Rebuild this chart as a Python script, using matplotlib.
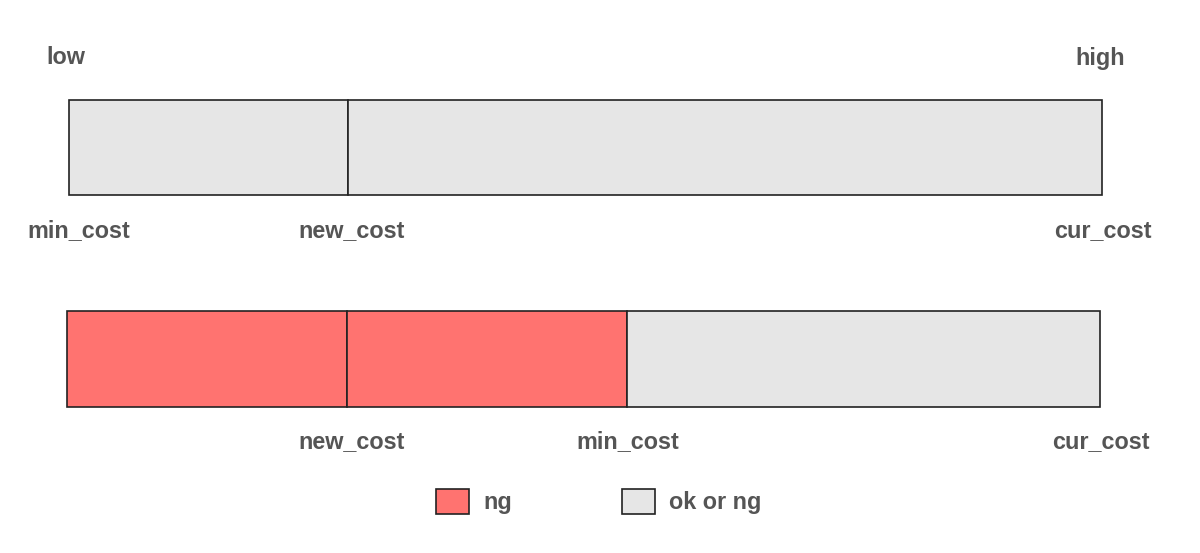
import matplotlib.pyplot as plt
from matplotlib.patches import Rectangle

# segments of each bar: (start, end, kind)
top_segments = [(69, 348, "ok or ng"), (348, 1102, "ok or ng")]
bottom_segments = [(67, 347, "ng"), (347, 627, "ng"), (627, 1100, "ok or ng")]

top_ticks = [79, 352, 1103]
top_tick_labels = ["min_cost", "new_cost", "cur_cost"]
bottom_ticks = [352, 628, 1101]
bottom_tick_labels = ["new_cost", "min_cost", "cur_cost"]

scale_ends = [66, 1100]
scale_labels = ["low", "high"]

legend_kinds = ["ng", "ok or ng"]
colors = {"ng": "#ff7370", "ok or ng": "#e6e6e6"}
text_color = "#555555"

plt.rcParams['font.family'] = ['Liberation Sans', 'DejaVu Sans']

fig = plt.figure(figsize=(12, 5.53), dpi=100)
ax = fig.add_axes([0, 0, 1, 1])
ax.set_xlim(0, 1200)
ax.set_ylim(553, 0)
ax.axis('off')

def draw_bar(segments, y0, y1):
    for start, end, kind in segments:
        ax.add_patch(Rectangle((start, y0), end - start, y1 - y0,
                               facecolor=colors[kind], edgecolor='#222222', linewidth=1.2))

draw_bar(top_segments, 100, 195)
draw_bar(bottom_segments, 311, 407)

font = dict(fontsize=16.8, fontweight='bold', color=text_color, ha='center', va='center')

for x, lab in zip(scale_ends, scale_labels):
    ax.text(x, 58, lab, **font)
for x, lab in zip(top_ticks, top_tick_labels):
    ax.text(x, 231, lab, **font)
for x, lab in zip(bottom_ticks, bottom_tick_labels):
    ax.text(x, 442, lab, **font)

# legend
legend_x = [436, 622]
for x, kind in zip(legend_x, legend_kinds):
    ax.add_patch(Rectangle((x, 489), 33, 25, facecolor=colors[kind],
                           edgecolor='#222222', linewidth=1.2))
    ax.text(x + 47, 502, kind, **{**font, 'ha': 'left'})

fig.savefig('out.png', dpi=100)
